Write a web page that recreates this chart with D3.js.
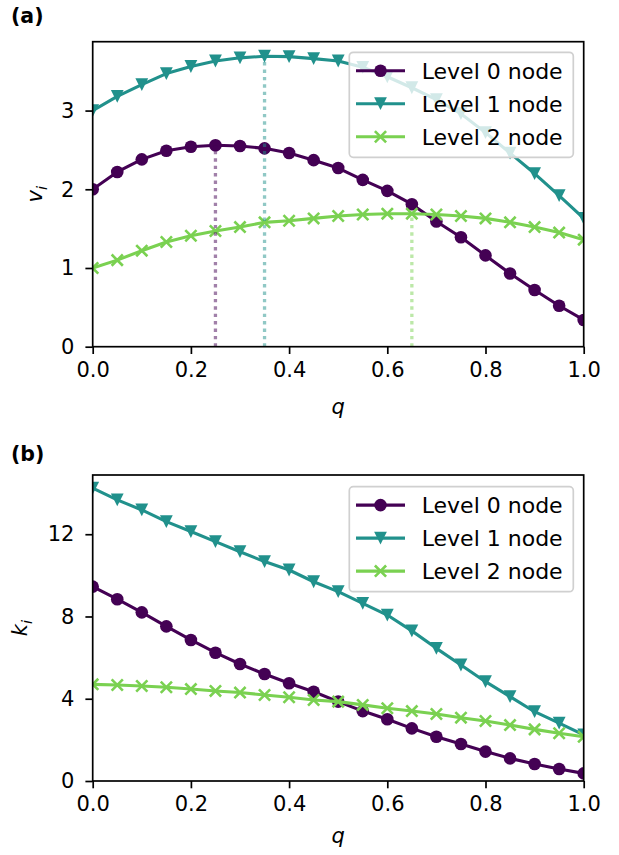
<!DOCTYPE html>
<html>
<head>
<meta charset="utf-8">
<script src="https://cdn.jsdelivr.net/npm/d3@7"></script>
<style>
  body { margin: 0; background: #fff; }
  svg { font-family: "DejaVu Sans", sans-serif; }
</style>
</head>
<body>
<svg width="619" height="855"></svg>
<script>
// q values shared by both panels
var q = [0.00, 0.05, 0.10, 0.15, 0.20, 0.25, 0.30, 0.35, 0.40, 0.45, 0.50,
         0.55, 0.60, 0.65, 0.70, 0.75, 0.80, 0.85, 0.90, 0.95, 1.00];

// panel (a): v_i
var vLevel0 = [2.00, 2.22, 2.38, 2.49, 2.54, 2.56, 2.55, 2.52, 2.46, 2.37, 2.27,
               2.12, 1.98, 1.81, 1.59, 1.39, 1.16, 0.93, 0.72, 0.52, 0.34];
var vLevel1 = [3.00, 3.18, 3.33, 3.47, 3.56, 3.63, 3.67, 3.69, 3.685, 3.66, 3.63,
               3.55, 3.43, 3.29, 3.14, 2.96, 2.72, 2.46, 2.20, 1.92, 1.63];
var vLevel2 = [1.00, 1.10, 1.22, 1.33, 1.41, 1.47, 1.52, 1.58, 1.60, 1.63, 1.66,
               1.68, 1.69, 1.69, 1.68, 1.66, 1.63, 1.58, 1.52, 1.45, 1.36];
var peakQ = [0.25, 0.35, 0.65];

// panel (b): k_i
var kLevel0 = [9.45, 8.84, 8.20, 7.52, 6.86, 6.24, 5.69, 5.20, 4.75, 4.34, 3.86,
               3.40, 3.00, 2.56, 2.15, 1.80, 1.43, 1.10, 0.83, 0.58, 0.37];
var kLevel1 = [14.24, 13.67, 13.18, 12.61, 12.13, 11.64, 11.15, 10.67, 10.26, 9.69, 9.21,
               8.64, 8.07, 7.30, 6.45, 5.64, 4.83, 4.10, 3.37, 2.81, 2.24];
var kLevel2 = [4.70, 4.67, 4.62, 4.56, 4.47, 4.38, 4.30, 4.18, 4.07, 3.94, 3.86,
               3.70, 3.54, 3.40, 3.26, 3.08, 2.92, 2.72, 2.51, 2.32, 2.15];

var seriesNames = ["Level 0 node", "Level 1 node", "Level 2 node"];
var colors = ["#440154", "#21918c", "#7ad151"];
var markers = ["circle", "triangle", "x"];
var xTicks = [0, 0.2, 0.4, 0.6, 0.8, 1.0];

var svg = d3.select("svg");

function drawMarker(g, type, x, y, color) {
  if (type === "circle") {
    g.append("circle").attr("cx", x).attr("cy", y).attr("r", 6.3).attr("fill", color);
  } else if (type === "triangle") {
    var s = 6.4;
    g.append("path")
      .attr("d", "M" + (x - s) + "," + (y - s) + "L" + (x + s) + "," + (y - s) + "L" + x + "," + (y + s) + "Z")
      .attr("fill", color);
  } else {
    var h = 5.6;
    g.append("path")
      .attr("d", "M" + (x - h) + "," + (y - h) + "L" + (x + h) + "," + (y + h) +
                 "M" + (x - h) + "," + (y + h) + "L" + (x + h) + "," + (y - h))
      .attr("stroke", color).attr("stroke-width", 2.6).attr("fill", "none");
  }
}

function panel(opt) {
  var left = 92.7, right = 583.7, top = opt.top, bottom = opt.bottom;
  var x = d3.scaleLinear().domain([0, 1]).range([left, right]);
  var y = d3.scaleLinear().domain([0, opt.ymax]).range([bottom, top]);

  var clipId = "clip" + opt.id;
  svg.append("clipPath").attr("id", clipId)
    .append("rect").attr("x", left).attr("y", top)
    .attr("width", right - left).attr("height", bottom - top);

  var plot = svg.append("g").attr("clip-path", "url(#" + clipId + ")");

  var line = d3.line().x(function (d) { return x(d[0]); }).y(function (d) { return y(d[1]); });

  opt.series.forEach(function (vals, i) {
    var pts = q.map(function (qq, j) { return [qq, vals[j]]; });
    plot.append("path").datum(pts)
      .attr("d", line).attr("fill", "none")
      .attr("stroke", colors[i]).attr("stroke-width", 3.1)
      .attr("stroke-linejoin", "round");
    var mg = plot.append("g");
    pts.forEach(function (p) { drawMarker(mg, markers[i], x(p[0]), y(p[1]), colors[i]); });
  });

  if (opt.peaks) {
    opt.peaks.forEach(function (pq, i) {
      var j = q.indexOf(pq);
      plot.append("line")
        .attr("x1", x(pq)).attr("x2", x(pq))
        .attr("y1", y(0)).attr("y2", y(opt.series[i][j]))
        .attr("stroke", colors[i]).attr("stroke-opacity", 0.5)
        .attr("stroke-width", 3.3).attr("stroke-dasharray", "3.4,4");
    });
  }

  // axes
  var xAxis = svg.append("g").attr("transform", "translate(0," + bottom + ")")
    .call(d3.axisBottom(x).tickValues(xTicks).tickFormat(d3.format(".1f")).tickSize(7.3).tickPadding(8));
  var yAxis = svg.append("g").attr("transform", "translate(" + left + ",0)")
    .call(d3.axisLeft(y).tickValues(opt.yTicks).tickFormat(d3.format("d")).tickSize(7.3).tickPadding(11));
  [xAxis, yAxis].forEach(function (a) {
    a.select(".domain").remove();
    a.selectAll(".tick line").attr("stroke", "#000").attr("stroke-width", 1.7);
    a.selectAll(".tick text").attr("fill", "#000").attr("font-size", 21)
      .attr("font-family", "DejaVu Sans");
  });

  svg.append("rect").attr("x", left).attr("y", top)
    .attr("width", right - left).attr("height", bottom - top)
    .attr("fill", "none").attr("stroke", "#000").attr("stroke-width", 1.7);

  // axis labels
  svg.append("text").attr("x", (left + right) / 2).attr("y", opt.qLabelY)
    .attr("text-anchor", "middle").attr("font-size", 21).attr("font-style", "italic")
    .text("q");
  var yl = svg.append("text")
    .attr("transform", "translate(" + opt.yLabelX + "," + ((top + bottom) / 2) + ") rotate(-90)")
    .attr("text-anchor", "middle").attr("font-size", 21);
  yl.append("tspan").attr("font-style", "italic").text(opt.yLabel);
  yl.append("tspan").attr("font-style", "italic").attr("font-size", 14.7)
    .attr("dy", 4.5).text("i");

  // panel letter
  svg.append("text").attr("x", 11).attr("y", opt.letterY)
    .attr("font-size", 20.5).attr("font-weight", "bold").text(opt.letter);

  // legend
  var lg = svg.append("g");
  var lx = 349.3, lw = 224, ly = top + opt.legendOff, lh = 105;
  lg.append("rect").attr("x", lx).attr("y", ly).attr("width", lw).attr("height", lh)
    .attr("rx", 4).attr("fill", "#fff").attr("fill-opacity", 0.8)
    .attr("stroke", "#d0d0d0").attr("stroke-width", 1.7);
  seriesNames.forEach(function (name, i) {
    var cy = ly + 18.4 + i * 33;
    lg.append("line").attr("x1", 356).attr("x2", 405).attr("y1", cy).attr("y2", cy)
      .attr("stroke", colors[i]).attr("stroke-width", 3.1);
    drawMarker(lg, markers[i], 380.5, cy, colors[i]);
    lg.append("text").attr("x", 421.7).attr("y", cy + 8.3)
      .attr("font-size", 22).attr("fill", "#000").text(name);
  });
}

panel({
  id: "a", top: 41.7, bottom: 346.7, ymax: 3.875, yTicks: [0, 1, 2, 3],
  series: [vLevel0, vLevel1, vLevel2], peaks: peakQ,
  yLabel: "v", yLabelX: 42, qLabelY: 414, letter: "(a)", letterY: 23, legendOff: 10.6
});
panel({
  id: "b", top: 475, bottom: 781, ymax: 14.88, yTicks: [0, 4, 8, 12],
  series: [kLevel0, kLevel1, kLevel2], peaks: null,
  yLabel: "k", yLabelX: 27, qLabelY: 843, letter: "(b)", letterY: 460.5, legendOff: 11.7
});
</script>
</body>
</html>
